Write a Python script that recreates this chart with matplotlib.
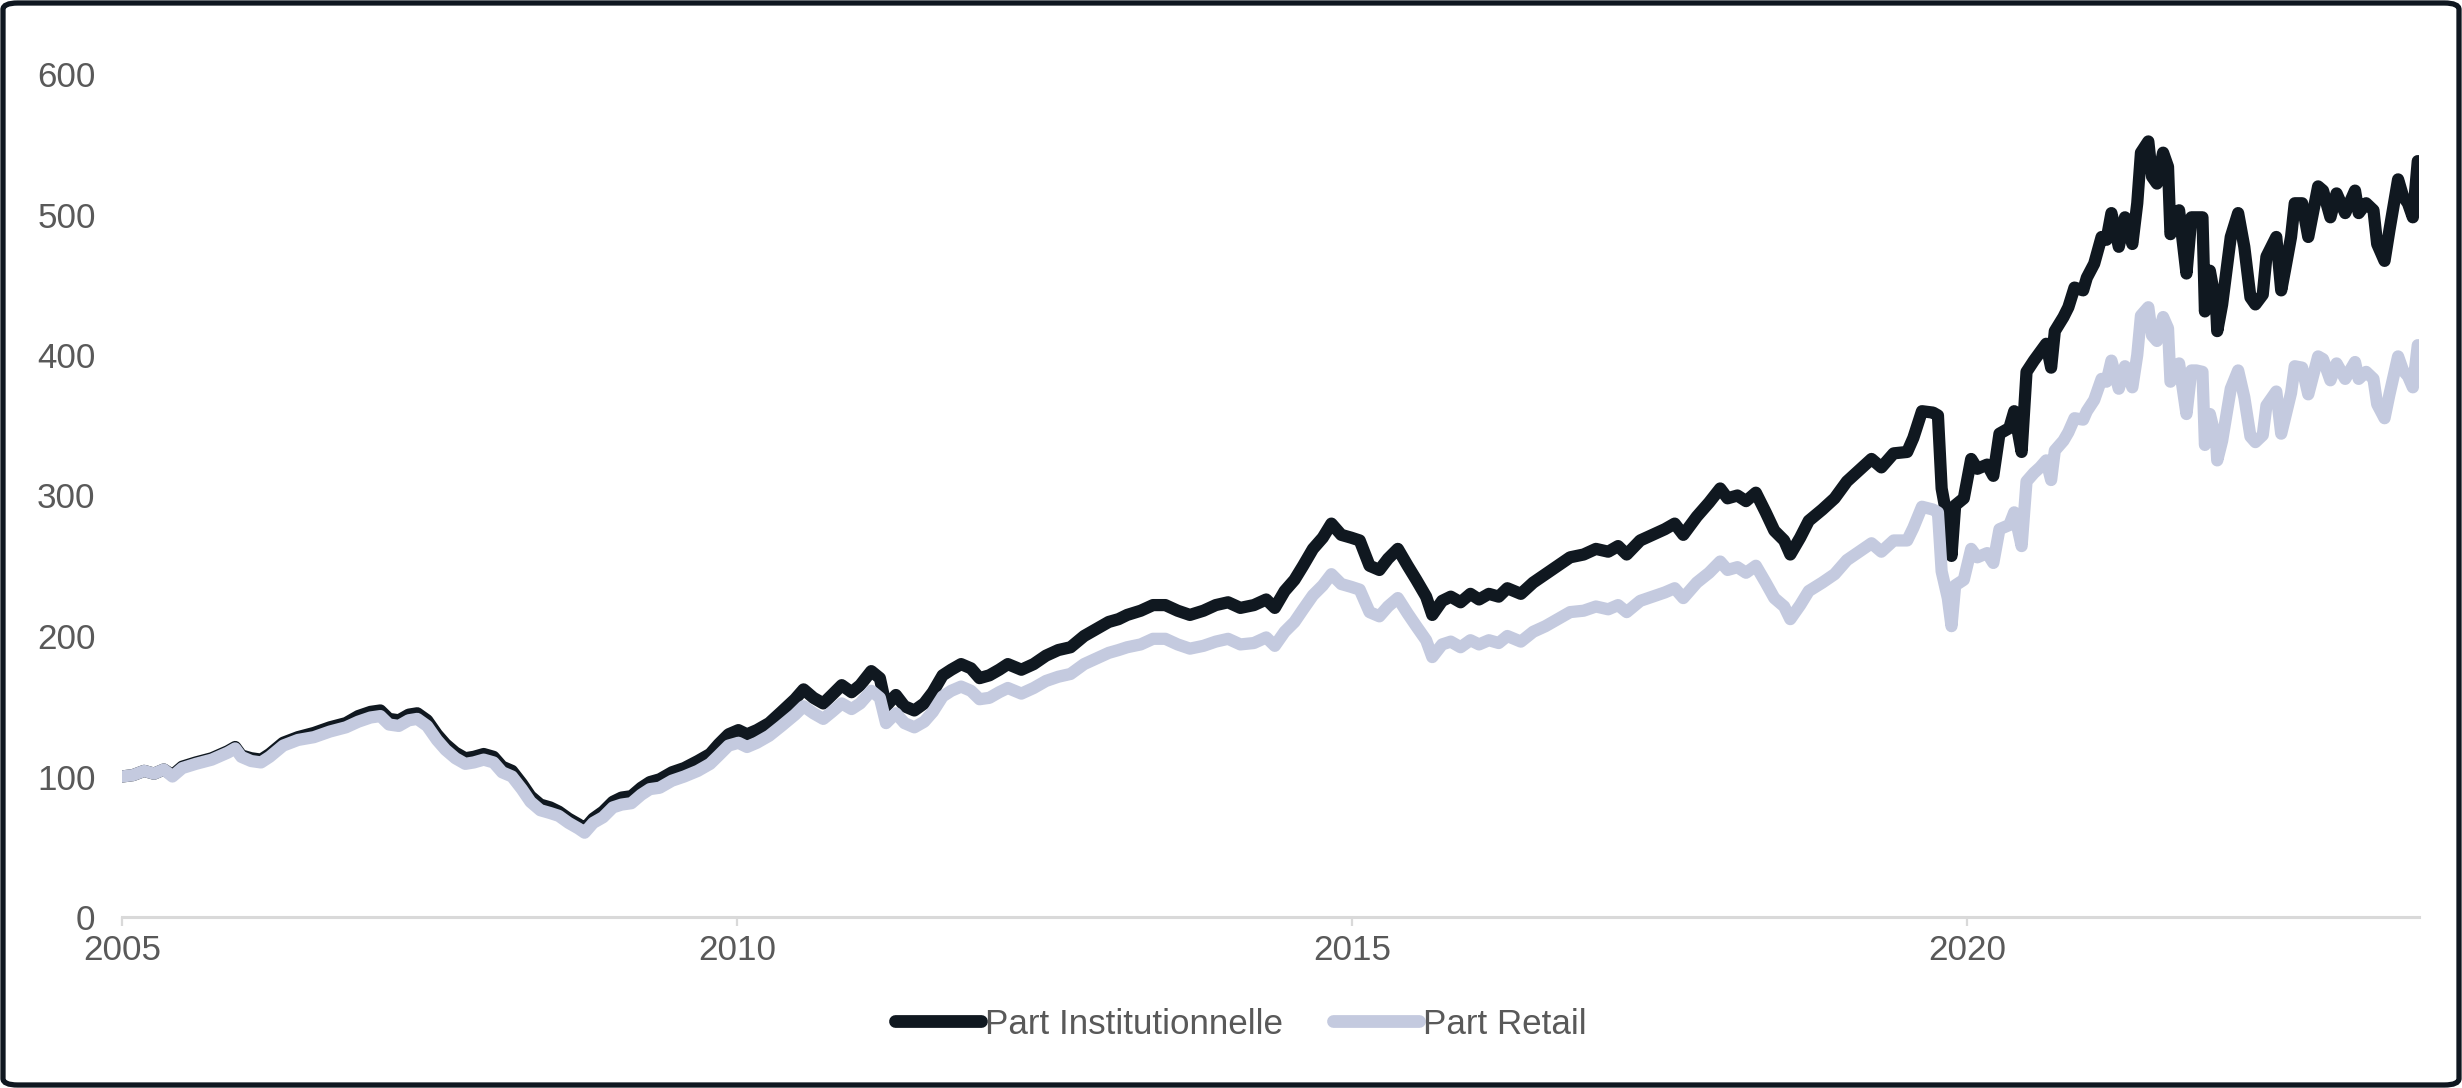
import matplotlib
matplotlib.use("Agg")
import matplotlib.pyplot as plt
from matplotlib.patches import FancyBboxPatch

dates = [
    2005.00, 2005.09, 2005.18, 2005.26, 2005.34, 2005.41, 2005.49, 2005.60, 2005.73, 2005.86,
    2005.92, 2005.97, 2006.05, 2006.13, 2006.20, 2006.31, 2006.43, 2006.56, 2006.69, 2006.82,
    2006.92, 2007.02, 2007.10, 2007.17, 2007.25, 2007.33, 2007.40, 2007.48, 2007.56, 2007.63,
    2007.71, 2007.79, 2007.86, 2007.94, 2008.02, 2008.09, 2008.17, 2008.25, 2008.32, 2008.40,
    2008.48, 2008.55, 2008.63, 2008.71, 2008.76, 2008.83, 2008.91, 2008.99, 2009.06, 2009.14,
    2009.22, 2009.29, 2009.37, 2009.47, 2009.57, 2009.68, 2009.78, 2009.85, 2009.93, 2010.01,
    2010.08, 2010.16, 2010.26, 2010.36, 2010.47, 2010.54, 2010.62, 2010.70, 2010.77, 2010.85,
    2010.93, 2011.00, 2011.09, 2011.16, 2011.21, 2011.29, 2011.36, 2011.44, 2011.52, 2011.59,
    2011.67, 2011.74, 2011.82, 2011.90, 2011.97, 2012.05, 2012.13, 2012.20, 2012.31, 2012.41,
    2012.51, 2012.61, 2012.71, 2012.82, 2012.92, 2013.02, 2013.10, 2013.17, 2013.28, 2013.38,
    2013.48, 2013.58, 2013.68, 2013.79, 2013.89, 2013.99, 2014.09, 2014.20, 2014.30, 2014.37,
    2014.45, 2014.53, 2014.60, 2014.68, 2014.76, 2014.83, 2014.91, 2014.99, 2015.06, 2015.14,
    2015.22, 2015.29, 2015.37, 2015.45, 2015.52, 2015.60, 2015.65, 2015.73, 2015.80, 2015.88,
    2015.96, 2016.03, 2016.11, 2016.19, 2016.26, 2016.37, 2016.47, 2016.57, 2016.67, 2016.77,
    2016.88, 2016.98, 2017.08, 2017.16, 2017.23, 2017.34, 2017.44, 2017.54, 2017.62, 2017.69,
    2017.80, 2017.90, 2017.99, 2018.05, 2018.13, 2018.20, 2018.28, 2018.36, 2018.43, 2018.51,
    2018.56, 2018.64, 2018.71, 2018.82, 2018.92, 2019.02, 2019.12, 2019.22, 2019.30, 2019.40,
    2019.51, 2019.56, 2019.63, 2019.72, 2019.76, 2019.79, 2019.84, 2019.87, 2019.90, 2019.97,
    2020.03, 2020.08, 2020.16, 2020.21, 2020.26, 2020.34, 2020.38, 2020.44, 2020.48, 2020.54,
    2020.59, 2020.64, 2020.68, 2020.71, 2020.78, 2020.82, 2020.87, 2020.94, 2020.97, 2021.03,
    2021.09, 2021.13, 2021.17, 2021.23, 2021.28, 2021.34, 2021.38, 2021.41, 2021.47, 2021.50,
    2021.54, 2021.59, 2021.63, 2021.65, 2021.72, 2021.78, 2021.82, 2021.86, 2021.91, 2021.93,
    2021.97, 2022.02, 2022.03, 2022.07, 2022.14, 2022.20, 2022.25, 2022.30, 2022.34, 2022.40,
    2022.43, 2022.51, 2022.55, 2022.58, 2022.63, 2022.66, 2022.72, 2022.77, 2022.85, 2022.89,
    2022.95, 2023.00, 2023.07, 2023.15, 2023.18, 2023.24, 2023.30, 2023.33, 2023.39, 2023.43,
    2023.50, 2023.54, 2023.58, 2023.62, 2023.66,
]

part_institutionnelle = [
    100, 101, 104, 102, 105, 101, 107, 110, 113, 118,
    121, 115, 113, 112, 116, 124, 128, 131, 135, 138,
    143, 146, 147, 141, 140, 144, 145, 140, 130, 123,
    117, 113, 114, 116, 114, 107, 104, 95, 86, 80,
    78, 75, 70, 66, 63, 70, 75, 82, 85, 86,
    92, 96, 98, 103, 106, 111, 116, 123, 130, 133,
    130, 133, 138, 146, 155, 162, 156, 152, 158, 165,
    160, 165, 175, 170, 150, 158, 150, 147, 152, 160,
    172, 176, 180, 177, 170, 172, 176, 180, 176, 180,
    186, 190, 192, 200, 205, 210, 212, 215, 218, 222,
    222, 218, 215, 218, 222, 224, 220, 222, 226, 220,
    232, 240, 250, 262, 270, 280, 272, 270, 268, 250,
    247, 255, 262, 250, 240, 228, 215, 225, 228, 224,
    230, 226, 230, 228, 234, 230, 238, 244, 250, 256,
    258, 262, 260, 264, 258, 268, 272, 276, 280, 272,
    285, 295, 305, 298, 300, 296, 302, 288, 275, 268,
    258, 270, 282, 290, 298, 310, 318, 326, 320, 330,
    331, 341, 360, 359, 357, 305, 281, 257, 293, 298,
    326, 319, 322, 314, 344, 348, 360, 331, 388, 396,
    402, 408, 391, 417, 427, 434, 448, 446, 455, 465,
    484, 482, 501, 477, 498, 479, 508, 544, 552, 527,
    522, 544, 534, 486, 503, 458, 498, 498, 498, 431,
    460, 436, 417, 436, 484, 501, 477, 441, 436, 443,
    470, 484, 446, 460, 484, 508, 508, 484, 520, 517,
    498, 515, 501, 517, 501, 508, 503, 479, 467, 489,
    525, 513, 508, 498, 538,
]

part_retail = [
    100, 101, 104, 102, 105, 100, 106, 109, 112, 117,
    120, 114, 111, 110, 114, 122, 126, 128, 132, 135,
    139, 142, 143, 137, 136, 140, 141, 136, 126, 119,
    113, 109, 110, 112, 110, 103, 100, 91, 82, 76,
    74, 72, 67, 63, 60, 67, 71, 78, 80, 81,
    87, 91, 92, 97, 100, 104, 109, 115, 122, 124,
    121, 124, 129, 136, 144, 150, 145, 141, 146, 152,
    148, 152, 161, 156, 138, 145, 138, 135, 139, 146,
    157, 161, 164, 161, 155, 156, 160, 163, 159, 163,
    168, 171, 173, 180, 184, 188, 190, 192, 194, 198,
    198, 194, 191, 193, 196, 198, 194, 195, 199, 193,
    203, 210, 219, 229, 236, 244, 237, 235, 233, 217,
    214, 221, 227, 216, 207, 197, 185, 194, 196, 192,
    197, 194, 197, 195, 200, 196, 203, 207, 212, 217,
    218, 221, 219, 222, 217, 225, 228, 231, 234, 227,
    238, 245, 253, 247, 249, 245, 250, 238, 227, 221,
    212, 222, 232, 238, 244, 254, 260, 266, 260, 268,
    268, 277, 292, 290, 288, 246, 227, 207, 236, 240,
    262, 256, 259, 252, 276, 279, 288, 264, 310, 316,
    320, 325, 311, 332, 339, 345, 355, 354, 360, 368,
    383, 381, 396, 376, 392, 377, 400, 428, 434, 414,
    410, 427, 419, 381, 394, 358, 389, 389, 388, 336,
    358, 340, 325, 339, 376, 389, 370, 342, 338, 343,
    364, 374, 344, 355, 373, 392, 391, 372, 399, 397,
    382, 394, 383, 395, 383, 388, 383, 365, 355, 372,
    399, 389, 385, 377, 407,
]

series_names = ["Part Institutionnelle", "Part Retail"]
x_ticks = [2005, 2010, 2015, 2020]
x_tick_labels = ["2005", "2010", "2015", "2020"]
y_ticks = [0, 100, 200, 300, 400, 500, 600]

DARK = "#101820"
LIGHT = "#c4cadf"
TEXT = "#595959"
AXIS = "#d9d9d9"

plt.rcParams["font.family"] = ["Liberation Sans", "DejaVu Sans"]

W, H, DPI = 2462, 1088, 200
fig = plt.figure(figsize=(W / DPI, H / DPI), dpi=DPI)
fig.patch.set_facecolor("white")

ax = fig.add_axes([122 / W, 1 - 917 / H, (2419 - 122) / W, (917 - 74) / H])
ax.set_facecolor("none")

lw = 4.4
ax.plot(dates, part_institutionnelle, color=DARK, lw=lw, label=series_names[0],
        solid_joinstyle="round", solid_capstyle="round", zorder=3)
ax.plot(dates, part_retail, color=LIGHT, lw=lw, label=series_names[1],
        solid_joinstyle="round", solid_capstyle="round", zorder=4)

ax.set_xlim(2005.0, 2023.67)
ax.set_ylim(0, 600)
ax.set_xticks(x_ticks)
ax.set_xticklabels(x_tick_labels)
ax.set_yticks(y_ticks)
ax.set_yticklabels([str(v) for v in y_ticks])

for s in ["top", "right", "left"]:
    ax.spines[s].set_visible(False)
ax.spines["bottom"].set_color(AXIS)
ax.spines["bottom"].set_linewidth(1.1)
ax.spines["bottom"].set_zorder(2)

ax.tick_params(axis="x", length=3.2, width=0.8, color=AXIS, labelsize=12.6,
               labelcolor=TEXT, pad=3)
ax.tick_params(axis="y", length=0, labelsize=12.6, labelcolor=TEXT, pad=9.5)
ax.grid(False)

leg = fig.legend(loc="center", bbox_to_anchor=(0.504, 1 - 1024 / H), ncol=2,
                 frameon=False, fontsize=12.6, handlelength=2.45, handletextpad=0.1,
                 columnspacing=1.45, labelcolor=TEXT)
for line in leg.get_lines():
    line.set_linewidth(4.6)
    line.set_solid_capstyle("round")

border = FancyBboxPatch((3 / W, 3 / H), 1 - 6 / W, 1 - 6 / H,
                        boxstyle="round,pad=0,rounding_size=0.006",
                        transform=fig.transFigure, facecolor="none",
                        edgecolor="#0f1720", linewidth=1.9, zorder=10)
fig.patches.append(border)

fig.savefig("out.png", dpi=DPI, facecolor="white")
